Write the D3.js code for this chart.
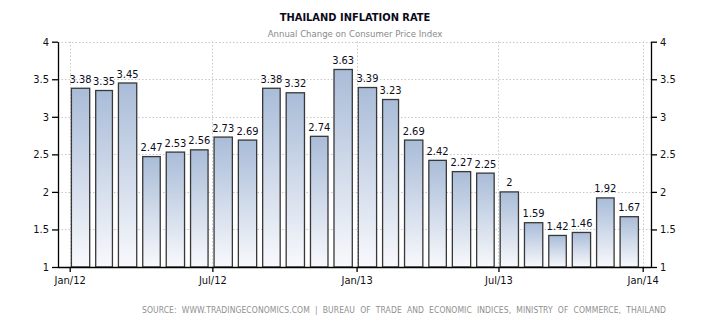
<!DOCTYPE html>
<html>
<head>
<meta charset="utf-8">
<script src="https://cdn.jsdelivr.net/npm/d3@7"></script>
<style>
  html, body { margin: 0; padding: 0; background: #fff; }
  svg { display: block; }
  text { font-family: "DejaVu Sans Condensed", "DejaVu Sans", sans-serif; }
</style>
</head>
<body>
<svg id="chart" width="710" height="325"></svg>
<script>
// Monthly inflation, Thailand, Jan 2012 – Dec 2013
const months = ["2012-01","2012-02","2012-03","2012-04","2012-05","2012-06",
                "2012-07","2012-08","2012-09","2012-10","2012-11","2012-12",
                "2013-01","2013-02","2013-03","2013-04","2013-05","2013-06",
                "2013-07","2013-08","2013-09","2013-10","2013-11","2013-12"];
const values = [3.38, 3.35, 3.45, 2.47, 2.53, 2.56, 2.73, 2.69, 3.38, 3.32, 2.74, 3.63,
                3.39, 3.23, 2.69, 2.42, 2.27, 2.25, 2, 1.59, 1.42, 1.46, 1.92, 1.67];
const yTicks = [1, 1.5, 2, 2.5, 3, 3.5, 4];
const xTickDates = ["2012-01","2012-07","2013-01","2013-07","2014-01"];

const parse = d3.timeParse("%Y-%m");
const data = months.map((m, i) => ({ date: parse(m), value: values[i] }));

const svg = d3.select("#chart");
const plotLeft = 58, plotRight = 651, plotTop = 41.7, plotBottom = 267;

const x = d3.scaleTime()
  .domain([parse("2012-01"), parse("2014-01")])
  .range([69.7, 642.7]);
const y = d3.scaleLinear().domain([1, 4]).range([plotBottom, plotTop]);

// bar fill gradient
const defs = svg.append("defs");
const grad = defs.append("linearGradient")
  .attr("id", "barFill").attr("x1", 0).attr("y1", 0).attr("x2", 0).attr("y2", 1);
grad.append("stop").attr("offset", "0%").attr("stop-color", "#a9bcd8");
grad.append("stop").attr("offset", "100%").attr("stop-color", "#f8f9fc");

// grid
const grid = svg.append("g").attr("stroke", "#c8c8c8").attr("stroke-dasharray", "1.5,2").attr("stroke-width", 1);
grid.selectAll("line.h").data(yTicks.slice(1)).join("line")
  .attr("x1", plotLeft).attr("x2", plotRight)
  .attr("y1", d => Math.round(y(d)) + 0.5).attr("y2", d => Math.round(y(d)) + 0.5);
grid.selectAll("line.v").data(xTickDates).join("line")
  .attr("x1", d => Math.round(x(parse(d))) + 0.5).attr("x2", d => Math.round(x(parse(d))) + 0.5)
  .attr("y1", plotTop).attr("y2", plotBottom);

// bars
const barX = d => x(d.date) + 1.7;
const barW = d => x(d3.timeMonth.offset(d.date, 1)) - x(d.date) - 6;
svg.append("g").selectAll("rect").data(data).join("rect")
  .attr("x", barX)
  .attr("width", barW)
  .attr("y", d => y(d.value))
  .attr("height", d => y(1) - y(d.value))
  .attr("fill", "url(#barFill)")
  .attr("stroke", "#383838")
  .attr("stroke-width", 1.3);

// value labels
svg.append("g").selectAll("text").data(data).join("text")
  .attr("x", d => barX(d) + barW(d) / 2)
  .attr("y", d => y(d.value) - 5.5)
  .attr("text-anchor", "middle")
  .attr("font-size", "11px")
  .attr("fill", "#0d0d1a")
  .text(d => d.value);

// axes
const axisStyle = g => {
  g.select(".domain").attr("stroke", "#000").attr("stroke-width", 1.3);
  g.selectAll(".tick line").attr("stroke", "#000").attr("stroke-width", 1.3);
  g.selectAll(".tick text").attr("font-size", "11px").attr("fill", "#111")
    .attr("font-family", "\"DejaVu Sans Condensed\", \"DejaVu Sans\", sans-serif");
};

svg.append("g").attr("transform", `translate(${plotLeft},0)`)
  .call(d3.axisLeft(y).tickValues(yTicks).tickSize(6).tickSizeOuter(0).tickPadding(3)
    .tickFormat(d3.format("~g")))
  .call(axisStyle);

svg.append("g").attr("transform", `translate(${plotRight},0)`)
  .call(d3.axisRight(y).tickValues(yTicks).tickSize(6).tickSizeOuter(0).tickPadding(3)
    .tickFormat(d3.format("~g")))
  .call(axisStyle);

const fmtMonth = d3.timeFormat("%b/%y");
svg.append("g").attr("transform", `translate(0,${plotBottom})`)
  .call(d3.axisBottom(x).tickValues(xTickDates.map(parse)).tickSize(5).tickSizeOuter(0).tickPadding(4)
    .tickFormat(fmtMonth))
  .call(axisStyle)
  .call(g => g.select(".domain").attr("d", `M${plotLeft},0.5H${plotRight}`));

// titles
svg.append("text").attr("x", 355).attr("y", 21).attr("text-anchor", "middle")
  .attr("font-size", "11px").attr("font-weight", "bold").attr("fill", "#0a0a1a")
  .text("THAILAND INFLATION RATE");
svg.append("text").attr("x", 355).attr("y", 37).attr("text-anchor", "middle")
  .attr("font-size", "9.5px").attr("fill", "#8a8a8a")
  .text("Annual Change on Consumer Price Index");

svg.append("text").attr("x", 142).attr("y", 313)
  .attr("font-size", "8.5px").attr("fill", "#8f8f8f").attr("word-spacing", "2.6px").attr("letter-spacing", "0.08px")
  .text("SOURCE: WWW.TRADINGECONOMICS.COM | BUREAU OF TRADE AND ECONOMIC INDICES, MINISTRY OF COMMERCE, THAILAND");
</script>
</body>
</html>
